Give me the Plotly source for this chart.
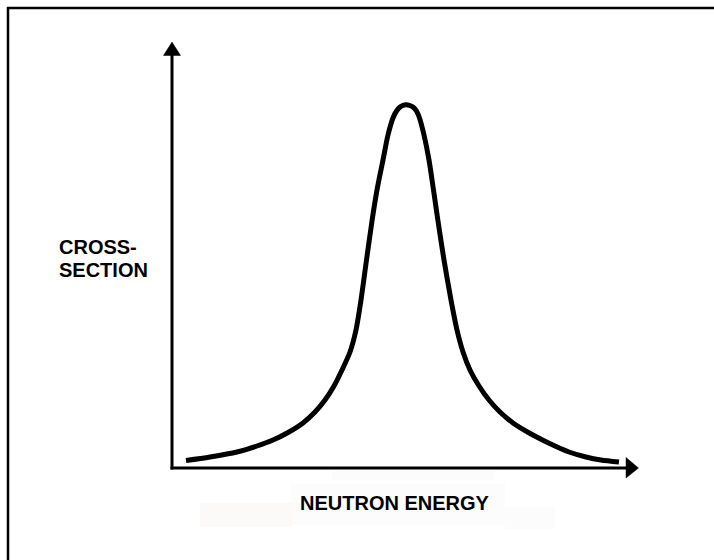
import plotly.graph_objects as go

# Resonance curve
# (arbitrary units: x axis spans 0-466, y axis spans 0-426)
energy = [14, 38, 65, 85, 101, 117, 131, 143, 153, 162, 170, 178, 184, 189, 194.5, 200,
          205, 211, 216, 221, 224.5, 228, 231, 234, 237.5, 241, 244.5, 247.5, 252, 257,
          261.5, 266, 272, 279, 285, 291, 298, 307, 317, 328, 341, 355.5, 370.5, 383, 397,
          414, 429, 447]
cross_section = [7.5, 11, 16, 22, 28, 36, 45, 56, 68, 82, 98, 116, 138, 168, 208, 247,
                 278, 308, 333, 350, 357, 361, 362.7, 363.2, 362.7, 361, 357, 350, 333, 308,
                 278, 247, 208, 168, 138, 116, 98, 82, 68, 56, 45, 36, 28, 22, 16,
                 11, 8, 6]

x_label = "NEUTRON ENERGY"
y_label_lines = ["CROSS-", "SECTION"]

W, H = 714, 560
L, R, T, B = 172, 76, 42, 92
pw, ph = W - L - R, H - T - B


def px_x(p):
    return (p - L) / pw


def px_y(p):
    return (H - B - p) / ph


fig = go.Figure()
fig.add_trace(go.Scatter(
    x=energy, y=cross_section, mode="lines",
    line=dict(color="black", width=5, shape="spline", smoothing=0.8),
    hoverinfo="skip", showlegend=False, cliponaxis=False,
))

shapes = []
# faint background patches (scan artefacts around the x label)
for (x0, y0, x1, y1, c) in [(291, 484, 505, 525, "#fcfcfc"), (200, 503, 292, 527, "#fbfaf9"),
                            (505, 507, 555, 529, "#fcfcfc"), (332, 471, 494, 480, "#fcfcfc")]:
    shapes.append(dict(type="rect", xref="paper", yref="paper",
                       x0=px_x(x0), x1=px_x(x1), y0=px_y(y1), y1=px_y(y0),
                       fillcolor=c, line=dict(width=0), layer="below"))

# outer frame (top and left edges)
shapes.append(dict(type="line", xref="paper", yref="paper",
                   x0=px_x(7), x1=px_x(714), y0=px_y(8), y1=px_y(8),
                   line=dict(color="black", width=2.5)))
shapes.append(dict(type="line", xref="paper", yref="paper",
                   x0=px_x(8), x1=px_x(8), y0=px_y(7), y1=px_y(560),
                   line=dict(color="black", width=2.5)))

# axes lines (origin at pixel 172, 468)
shapes.append(dict(type="line", xref="paper", yref="paper",
                   x0=px_x(172), x1=px_x(172), y0=px_y(469.5), y1=px_y(52),
                   line=dict(color="black", width=3)))
shapes.append(dict(type="line", xref="paper", yref="paper",
                   x0=px_x(170.5), x1=px_x(630), y0=px_y(468), y1=px_y(468),
                   line=dict(color="black", width=3)))
# arrow heads
shapes.append(dict(type="path", xref="paper", yref="paper",
                   path="M {a},{b} L {c},{b} L {d},{e} Z".format(
                       a=px_x(163.5), c=px_x(180.5), b=px_y(55.5), d=px_x(172), e=px_y(42)),
                   fillcolor="black", line=dict(color="black", width=0.5)))
shapes.append(dict(type="path", xref="paper", yref="paper",
                   path="M {a},{b} L {a},{c} L {d},{e} Z".format(
                       a=px_x(626), b=px_y(457.5), c=px_y(478), d=px_x(638.5), e=px_y(468)),
                   fillcolor="black", line=dict(color="black", width=0.5)))

font = dict(family="Liberation Sans, Arial, sans-serif", size=20, color="black", weight="bold")
annotations = [
    dict(text=y_label_lines[0], xref="paper", yref="paper", x=px_x(57), y=px_y(246.5),
         xanchor="left", yanchor="middle", showarrow=False, font=font),
    dict(text=y_label_lines[1], xref="paper", yref="paper", x=px_x(57), y=px_y(270),
         xanchor="left", yanchor="middle", showarrow=False, font=font),
    dict(text=x_label, xref="paper", yref="paper", x=px_x(395), y=px_y(503.5),
         xanchor="center", yanchor="middle", showarrow=False, font=font),
]

fig.update_layout(
    width=W, height=H,
    margin=dict(l=L, r=R, t=T, b=B, pad=0),
    paper_bgcolor="white", plot_bgcolor="white",
    xaxis=dict(range=[0, pw], visible=False, fixedrange=True),
    yaxis=dict(range=[0, ph], visible=False, fixedrange=True),
    shapes=shapes, annotations=annotations,
    showlegend=False,
)

fig.write_html("out.html", config={"displayModeBar": False},
               post_script="document.body.style.margin='0px';document.body.style.overflow='hidden';")
